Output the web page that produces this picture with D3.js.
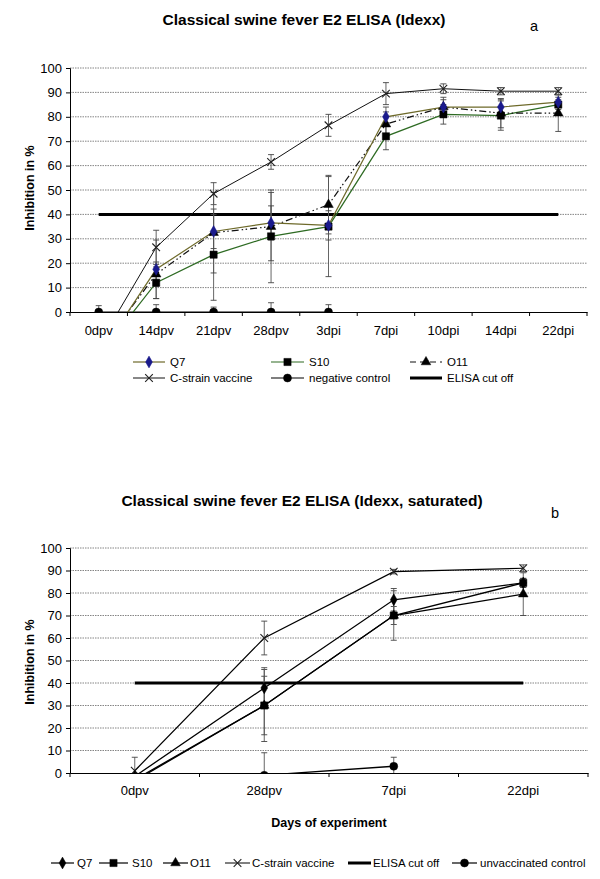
<!DOCTYPE html>
<html><head><meta charset="utf-8">
<script src="https://cdn.jsdelivr.net/npm/d3@7"></script>
<style>body{margin:0;background:#fff}text{font-family:"Liberation Sans",Arial,sans-serif}</style>
</head><body>
<script>
// ---------- Chart a data ----------
const catsA = ["0dpv","14dpv","21dpv","28dpv","3dpi","7dpi","10dpi","14dpi","22dpi"];
const q7A   = [-18, 17.5, 33, 36.5, 35.5, 80, 84, 84, 86];
const s10A  = [-18, 12, 23.5, 31, 35, 72, 81, 80.5, 85];
const o11A  = [-16, 15.5, 32.5, 35, 44, 77, 84, 81.5, 81.5];
const cA    = [-13.5, 26.5, 48.5, 61.5, 76.5, 89.5, 91.5, 90.5, 90.5];
const negA  = [0, 0, 0, 0, 0, null, null, null, null];
const q7ErrA  = [null, 12, 7, 7, 6, 4, 3, 3, 2];
const s10ErrA = [null, 6.5, 18.7, 19, 20.5, 5.5, 4, 6, 2];
const o11ErrA = [null, 5, 16.5, 14, 12, 5, 4, 6, 7.5];
const cErrA   = [null, 7, 4.5, 3, 4.5, 4.5, 2, 1.5, 1.5];
const negErrA = [2.6, 3, 2, 3.8, 3, null, null, null, null];
const cutA  = [40, 40, 40, 40, 40, 40, 40, 40, 40];

// ---------- Chart b data ----------
const catsB = ["0dpv","28dpv","7dpi","22dpi"];
const q7B   = [-1.5, 37.8, 77, 84.5];
const s10B  = [-3, 30, 70, 84.5];
const o11B  = [-3.5, 30, 70, 79.5];
const cB    = [1, 60, 89.5, 91];
const ctrlB = [null, -1, 3, null];
const q7ErrB  = [null, 9, 5, 2];
const s10ErrB = [null, 13, 11, 2];
const o11ErrB = [null, 16, 4, 9.5];
const cErrB   = [6, 7.5, 1, 1.5];
const ctrlErrB= [null, 10, 4, null];
const cutB  = [40, 40, 40, 40];
const yTicks = [0,10,20,30,40,50,60,70,80,90,100];

const W = 600, H = 879;
const svg = d3.select("body").append("svg").attr("width", W).attr("height", H);

const sym = {
  diamond: d3.symbol().type(d3.symbolDiamond).size(40),
  square: d3.symbol().type(d3.symbolSquare).size(52),
  triangle: d3.symbol().type(d3.symbolTriangle).size(40),
  cross: d3.symbol().type(d3.symbolX).size(40),
  circle: d3.symbol().type(d3.symbolCircle).size(50)
};

function drawMarker(g, type, x, y, fill) {
  if (type === "cross") {
    g.append("path").attr("d", sym.cross()).attr("transform", `translate(${x},${y})`)
      .attr("fill", "none").attr("stroke", "#222").attr("stroke-width", 1.1);
  } else {
    g.append("path").attr("d", sym[type]()).attr("transform", `translate(${x},${y})`)
      .attr("fill", fill).attr("stroke", fill).attr("stroke-width", 0.5);
  }
}

function chart(cfg) {
  const x = d3.scaleBand().domain(cfg.cats).range([cfg.left, cfg.right]).padding(0);
  const y = d3.scaleLinear().domain([0, 100]).range([cfg.bottom, cfg.top]);
  const cx = c => x(c) + x.bandwidth() / 2;
  const g = svg.append("g");
  const clipId = "clip" + cfg.id;
  svg.append("clipPath").attr("id", clipId).append("rect")
    .attr("x", cfg.left).attr("y", cfg.top - 10).attr("width", cfg.right - cfg.left + 10)
    .attr("height", cfg.bottom - cfg.top + 10);

  // gridlines
  g.selectAll(".grid").data(yTicks.filter(d => d > 0)).join("line")
    .attr("x1", cfg.left).attr("x2", cfg.right).attr("y1", d => y(d)).attr("y2", d => y(d))
    .attr("stroke", "#666").attr("stroke-width", 0.8).attr("stroke-dasharray", "1.5,1");

  // y axis
  const ya = g.append("g").attr("transform", `translate(${cfg.left},0)`)
    .call(d3.axisLeft(y).tickValues(yTicks).tickSize(4).tickPadding(4));
  ya.select(".domain").attr("stroke", "#000");
  ya.selectAll("text").attr("font-size", 13).attr("fill", "#000");
  // x axis (labels)
  const xa = g.append("g").attr("transform", `translate(0,${cfg.bottom})`)
    .call(d3.axisBottom(x).tickSize(0).tickPadding(cfg.labelPad));
  xa.select(".domain").attr("stroke", "#000");
  xa.selectAll("text").attr("font-size", 13).attr("fill", "#000");
  // boundary ticks
  const bounds = cfg.cats.map(c => x(c)).concat([x.range()[1]]);
  g.selectAll(".bt").data(bounds).join("line")
    .attr("x1", d => d).attr("x2", d => d).attr("y1", cfg.bottom).attr("y2", cfg.bottom + 4)
    .attr("stroke", "#000");

  const pg = g.append("g").attr("clip-path", `url(#${clipId})`);

  // cut-off line
  const line = d3.line().defined(d => d[1] != null).x(d => cx(d[0])).y(d => y(d[1]));
  pg.append("path").datum(cfg.cats.map((c, i) => [c, cfg.cut[i]])).attr("d", line)
    .attr("fill", "none").attr("stroke", "#000").attr("stroke-width", 3);

  // error bars
  cfg.series.forEach(s => {
    cfg.cats.forEach((c, i) => {
      const v = s.vals[i], e = s.err[i];
      if (v == null || e == null) return;
      const xx = cx(c);
      pg.append("line").attr("x1", xx).attr("x2", xx).attr("y1", y(v - e)).attr("y2", y(v + e))
        .attr("stroke", "#555").attr("stroke-width", 0.9);
      [v - e, v + e].forEach(t => pg.append("line").attr("x1", xx - 3).attr("x2", xx + 3)
        .attr("y1", y(t)).attr("y2", y(t)).attr("stroke", "#444").attr("stroke-width", 0.9));
    });
  });

  // lines
  cfg.series.forEach(s => {
    pg.append("path").datum(cfg.cats.map((c, i) => [c, s.vals[i]])).attr("d", line)
      .attr("fill", "none").attr("stroke", s.color).attr("stroke-width", s.width || 1.2)
      .attr("stroke-dasharray", s.dash || null);
  });
  // markers
  cfg.series.forEach(s => {
    cfg.cats.forEach((c, i) => {
      const v = s.vals[i];
      if (v == null) return;
      drawMarker(pg, s.marker, cx(c), y(v), s.mfill);
    });
  });

  // titles
  svg.append("text").attr("x", cfg.titleX).attr("y", cfg.titleY).attr("text-anchor", "middle")
    .attr("font-size", 15.5).attr("font-weight", "bold").text(cfg.title);
  svg.append("text").attr("x", cfg.letterX).attr("y", cfg.letterY).attr("text-anchor", "middle")
    .attr("font-size", 14.5).text(cfg.letter);
  svg.append("text").attr("transform", `translate(${cfg.ytX},${cfg.ytY}) rotate(-90)`)
    .attr("text-anchor", "middle").attr("font-size", 12.5).attr("font-weight", "bold").text("Inhibition in %");
}

chart({
  id: "a", cats: catsA, left: 70, right: 587, top: 68, bottom: 312, labelPad: 14,
  cut: cutA, title: "Classical swine fever E2 ELISA (Idexx)", titleX: 304, titleY: 25,
  letter: "a", letterX: 534, letterY: 31, ytX: 34, ytY: 188,
  series: [
    {vals: negA, err: negErrA, color: "#000", marker: "circle", mfill: "#000"},
    {vals: cA, err: cErrA, color: "#111", marker: "cross", mfill: "#000", width: 1},
    {vals: s10A, err: s10ErrA, color: "#2e6b23", marker: "square", mfill: "#000"},
    {vals: o11A, err: o11ErrA, color: "#111", marker: "triangle", mfill: "#000", dash: "7,3,1.5,2.5,1.5,3"},
    {vals: q7A, err: q7ErrA, color: "#6e6a2a", marker: "diamond", mfill: "#1a1a8c"}
  ]
});

chart({
  id: "b", cats: catsB, left: 70, right: 588, top: 548, bottom: 773, labelPad: 13,
  cut: cutB, title: "Classical swine fever E2 ELISA (Idexx, saturated)", titleX: 302, titleY: 506,
  letter: "b", letterX: 555, letterY: 518, ytX: 34, ytY: 662,
  series: [
    {vals: ctrlB, err: ctrlErrB, color: "#000", marker: "circle", mfill: "#000", width: 1.3},
    {vals: cB, err: cErrB, color: "#000", marker: "cross", mfill: "#000", width: 1.2},
    {vals: o11B, err: o11ErrB, color: "#000", marker: "triangle", mfill: "#000", width: 1.3},
    {vals: s10B, err: s10ErrB, color: "#000", marker: "square", mfill: "#000", width: 1.3},
    {vals: q7B, err: q7ErrB, color: "#000", marker: "diamond", mfill: "#000", width: 1.3}
  ]
});

svg.append("text").attr("x", 329).attr("y", 827).attr("text-anchor", "middle")
  .attr("font-size", 12.5).attr("font-weight", "bold").text("Days of experiment");

// ---------- Legends ----------
function legendItem(x1, x2, tx, y, label, color, marker, mfill, width, dash) {
  const g = svg.append("g");
  g.append("line").attr("x1", x1).attr("x2", x2).attr("y1", y).attr("y2", y)
    .attr("stroke", color).attr("stroke-width", width).attr("stroke-dasharray", dash || null);
  if (marker) drawMarker(g, marker, (x1 + x2) / 2, y, mfill);
  g.append("text").attr("x", tx).attr("y", y + 4).attr("font-size", 11.5).text(label);
}
const legA = [
  {x1: 133, x2: 165, tx: 170, y: 362, label: "Q7", color: "#6e6a2a", marker: "diamond", mfill: "#1a1a8c", w: 1.2},
  {x1: 271, x2: 304, tx: 309, y: 362, label: "S10", color: "#2e6b23", marker: "square", mfill: "#000", w: 1.2},
  {x1: 410, x2: 442, tx: 447, y: 362, label: "O11", color: "#111", marker: "triangle", mfill: "#000", w: 1.2, dash: "6,4"},
  {x1: 133, x2: 165, tx: 170, y: 378, label: "C-strain vaccine", color: "#111", marker: "cross", mfill: "#000", w: 1},
  {x1: 271, x2: 304, tx: 309, y: 378, label: "negative control", color: "#000", marker: "circle", mfill: "#000", w: 1.2},
  {x1: 410, x2: 442, tx: 447, y: 378, label: "ELISA cut off", color: "#000", marker: null, mfill: "#000", w: 3}
];
legA.forEach(d => legendItem(d.x1, d.x2, d.tx, d.y, d.label, d.color, d.marker, d.mfill, d.w, d.dash));

const legB = [
  {x1: 51, x2: 74, tx: 77, label: "Q7", marker: "diamond", w: 1.2},
  {x1: 99, x2: 128, tx: 132, label: "S10", marker: "square", w: 1.2},
  {x1: 163, x2: 188, tx: 190, label: "O11", marker: "triangle", w: 1.2},
  {x1: 225, x2: 250, tx: 252, label: "C-strain vaccine", marker: "cross", w: 1},
  {x1: 348, x2: 371, tx: 373, label: "ELISA cut off", marker: null, w: 3},
  {x1: 452, x2: 477, tx: 480, label: "unvaccinated control", marker: "circle", w: 1.2}
];
legB.forEach(d => legendItem(d.x1, d.x2, d.tx, 863, d.label, "#000", d.marker, "#000", d.w, null));
</script>
</body></html>
